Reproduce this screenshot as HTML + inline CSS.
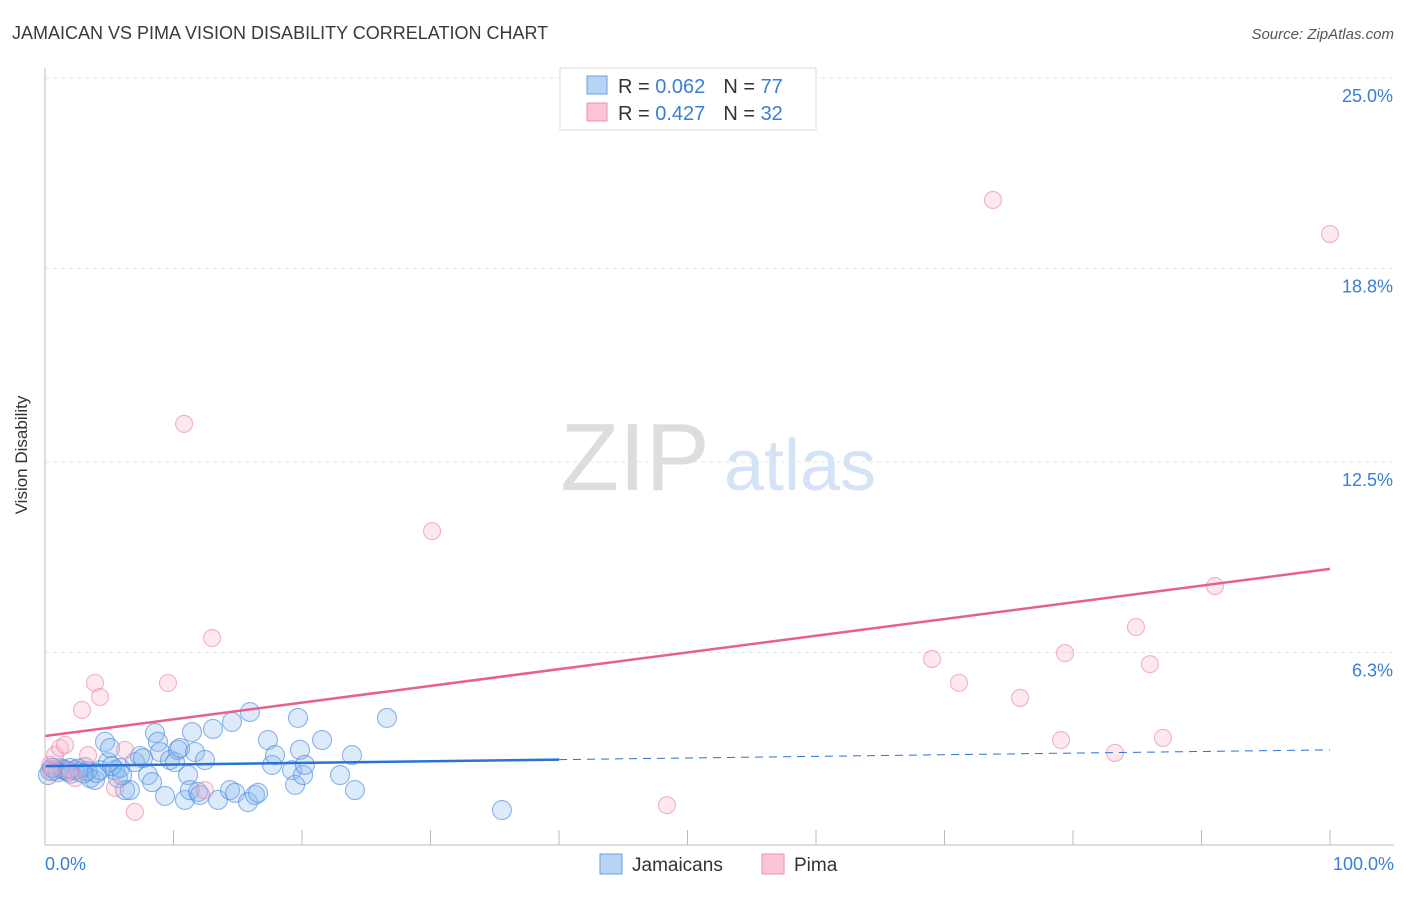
<!DOCTYPE html>
<html><head><meta charset="utf-8"><style>
body{margin:0;background:#fff;font-family:"Liberation Sans",sans-serif;}
svg text{font-family:"Liberation Sans",sans-serif;}
</style></head><body>
<svg width="1406" height="892" id="chart">
<text x="12" y="39" font-size="18" fill="#3a3a3a">JAMAICAN VS PIMA VISION DISABILITY CORRELATION CHART</text>
<text x="1394" y="39" font-size="15" fill="#555" font-style="italic" text-anchor="end">Source: ZipAtlas.com</text>
<text x="27" y="455" font-size="17" fill="#333" transform="rotate(-90 27 455)" text-anchor="middle">Vision Disability</text>
<g>
<text x="635" y="490" font-size="96" fill="#ddd" font-family="Liberation Serif" text-anchor="middle">ZIP</text>
<text x="800" y="490" font-size="72" fill="#d4e3f5" text-anchor="middle">atlas</text>
</g>
<g id="grid"></g><g id="marks"></g>
<line x1="45" y1="68" x2="45" y2="845" stroke="#bbb"/>
<line x1="45" y1="845" x2="1394" y2="845" stroke="#bbb"/>
<text x="45" y="870" font-size="18" fill="#3b7dd8">0.0%</text>
<text x="1394" y="870" font-size="18" fill="#3b7dd8" text-anchor="end">100.0%</text>
<g>
<rect x="560" y="68" width="256" height="62" fill="#fff" stroke="#ddd"/>
<rect x="587" y="76" width="20" height="18" fill="#b8d4f5" stroke="#6a9fe0"/>
<rect x="587" y="103" width="20" height="18" fill="#fac6d6" stroke="#ee8fab"/>
<text x="618" y="93" font-size="20" fill="#333">R = <tspan fill="#3b7dd8">0.062</tspan><tspan dx="18">N = </tspan><tspan fill="#3b7dd8">77</tspan></text>
<text x="618" y="120" font-size="20" fill="#333">R = <tspan fill="#3b7dd8">0.427</tspan><tspan dx="18">N = </tspan><tspan fill="#3b7dd8">32</tspan></text>
</g>
<g>
<rect x="600" y="854" width="22" height="20" fill="#b8d4f5" stroke="#6a9fe0"/>
<text x="632" y="871" font-size="19" fill="#333">Jamaicans</text>
<rect x="762" y="854" width="22" height="20" fill="#fac6d6" stroke="#ee8fab"/>
<text x="794" y="871" font-size="19" fill="#333">Pima</text>
</g>
</svg>
<script>
const yTicks=[6.3,12.5,18.8,25.0];
const xTickVals=[0,10,20,30,40,50,60,70,80,90,100];
const blueX=[0.23,0.54,0.78,1.17,1.56,1.95,2.33,2.72,3.11,3.50,3.89,4.28,4.67,4.90,5.06,5.45,5.68,5.84,6.23,6.61,7.00,7.39,7.63,8.02,8.33,8.56,8.79,8.95,9.34,9.73,10.12,10.35,10.51,10.89,11.13,11.28,11.44,11.67,11.91,12.06,12.45,13.07,13.46,14.40,14.79,14.55,15.95,15.80,16.34,16.58,17.35,17.67,17.90,19.22,19.46,19.69,19.84,20.08,20.23,21.56,22.96,23.89,24.12,26.61,35.56,0.4,1.0,1.4,2.0,2.6,3.3,4.0,5.2,6.0,0.6,1.8,3.0];
const blueY=[2.31,2.54,2.47,2.54,2.47,2.54,2.47,2.41,2.57,2.21,2.15,2.47,3.39,2.73,3.19,2.47,2.21,2.54,1.82,1.82,2.73,2.93,2.86,2.31,2.08,3.68,3.39,3.06,1.63,2.80,2.73,3.13,3.19,1.50,2.31,1.82,3.71,3.06,1.76,1.66,2.80,3.81,1.50,1.82,1.73,4.04,4.36,1.43,1.66,1.73,3.45,2.64,2.96,2.47,1.99,4.17,3.13,2.31,2.64,3.45,2.31,2.96,1.82,4.17,1.17,2.45,2.40,2.50,2.35,2.52,2.44,2.38,2.60,2.30,2.55,2.42,2.36];
const pinkX=[0.39,0.78,1.17,1.56,2.33,2.88,3.35,3.89,4.28,5.45,6.23,7.00,9.57,10.82,12.45,13.00,30.12,48.40,69.03,71.13,73.77,75.88,79.07,79.38,83.27,84.90,85.99,87.00,91.05,100,0.54,1.95];
const pinkY=[2.64,2.96,3.19,3.29,2.21,4.43,2.96,5.31,4.85,1.89,3.13,1.11,5.31,13.74,1.82,6.77,10.25,1.33,6.09,5.31,21.03,4.82,3.45,6.28,3.03,7.13,5.92,3.52,8.46,19.92,2.41,2.47];
const blueTrend=[2.60,3.13];
const pinkTrend=[3.58,9.02];
const blueSolidEnd=40;
const X=v=>45+v*12.85, Y=v=>846-v*30.72;
const NS="http://www.w3.org/2000/svg";
const grid=document.getElementById('grid'), marks=document.getElementById('marks');
function mk(tag,attrs,parent){const e=document.createElementNS(NS,tag);for(const k in attrs)e.setAttribute(k,attrs[k]);parent.appendChild(e);return e;}
yTicks.forEach(t=>{
 const l=mk('line',{x1:45,x2:1394,y1:Y(t),y2:Y(t),stroke:'#e4e4e4','stroke-dasharray':'4,4'},grid);
 
 
 const tx=mk('text',{x:1393,y:Y(t)+24,'font-size':18,fill:'#3b7dd8','text-anchor':'end'},grid);
 tx.textContent=t.toFixed(1)+'%';
 
 
});
xTickVals.forEach(t=>{
 const l=mk('line',{x1:X(t),x2:X(t),y1:830,y2:845,stroke:'#bbb'},grid);
 
 
});
blueX.forEach((v,i)=>{
 const c=mk('circle',{cx:X(v),cy:Y(blueY[i]),r:9.5,fill:'rgba(140,185,240,0.3)',stroke:'rgba(70,135,220,0.6)','stroke-width':1.1},marks);
 
 
});
pinkX.forEach((v,i)=>{
 const c=mk('circle',{cx:X(v),cy:Y(pinkY[i]),r:8.5,fill:'rgba(248,180,205,0.3)',stroke:'rgba(232,130,165,0.6)','stroke-width':1.1},marks);
 
 
});
const bAt=x=>blueTrend[0]+(blueTrend[1]-blueTrend[0])*x/100;
let l=mk('line',{x1:X(0),y1:Y(bAt(0)),x2:X(blueSolidEnd),y2:Y(bAt(blueSolidEnd)),stroke:'#2a72d8','stroke-width':2.5},marks);


l=mk('line',{x1:X(blueSolidEnd),y1:Y(bAt(blueSolidEnd)),x2:X(100),y2:Y(bAt(100)),stroke:'#2a72d8','stroke-width':1,'stroke-dasharray':'8,6'},marks);


l=mk('line',{x1:X(0),y1:Y(pinkTrend[0]),x2:X(100),y2:Y(pinkTrend[1]),stroke:'#e8608c','stroke-width':2.5},marks);


</script>
</body></html>
